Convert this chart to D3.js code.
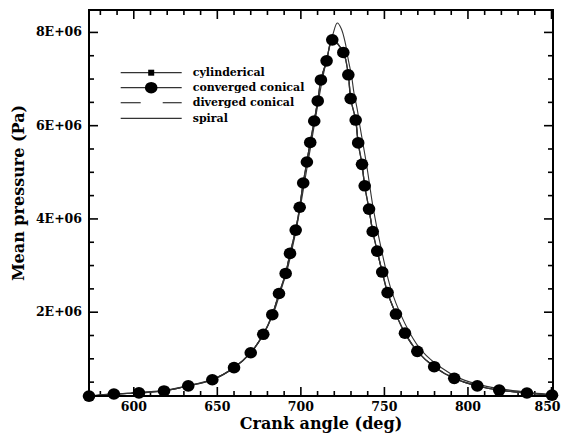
<!DOCTYPE html>
<html>
<head>
<meta charset="utf-8">
<script src="https://cdn.jsdelivr.net/npm/d3@7/dist/d3.min.js"></script>
<style>
  html, body { margin: 0; padding: 0; background: #fff; }
  svg { display: block; }
</style>
</head>
<body>
<script>
// ---- data (crank angle in deg, mean pressure in Pa) ----
const convergedAngle = [573.5, 588.4, 603.4, 618.4, 632.9, 647.3, 660.3, 670.3, 677.8, 683.2, 687.2, 691.2, 693.8, 697.2, 699.6, 701.7, 703.9, 705.9, 708.3, 710.4, 712.3, 715.7, 719.1, 725.7, 728.7, 730.1, 733.1, 734.6, 736.9, 738.5, 741.1, 743.3, 746.0, 749.0, 752.2, 757.2, 762.6, 770.0, 780.1, 792.1, 805.9, 819.0, 835.6, 850.6];
const convergedValue = [0.19e6, 0.235e6, 0.26e6, 0.30e6, 0.41e6, 0.54e6, 0.80e6, 1.12e6, 1.515e6, 1.936e6, 2.39e6, 2.82e6, 3.25e6, 3.75e6, 4.24e6, 4.76e6, 5.21e6, 5.63e6, 6.09e6, 6.52e6, 6.97e6, 7.38e6, 7.83e6, 7.56e6, 7.08e6, 6.57e6, 6.11e6, 5.62e6, 5.16e6, 4.70e6, 4.20e6, 3.72e6, 3.30e6, 2.85e6, 2.41e6, 1.95e6, 1.54e6, 1.15e6, 0.82e6, 0.57e6, 0.41e6, 0.32e6, 0.256e6, 0.21e6];
// cylinderical and diverged conical overlap the converged conical curve
const cylindericalAngle = convergedAngle.slice();
const cylindericalValue = convergedValue.slice();
const divergedAngle = convergedAngle.slice();
const divergedValue = convergedValue.slice();
const spiralAngle = [573.5, 590, 605, 620, 635, 648, 660, 670, 678, 684, 688, 692, 695, 698, 700.5, 703, 705.5, 708, 710.5, 713, 716, 719.5, 722.1, 724.5, 726.9, 728.7, 730.7, 732.1, 734.1, 735.7, 739.6, 743.7, 748.7, 754.9, 765.6, 773.0, 783.5, 795.5, 809, 823, 839, 851];
const spiralValue = [0.19e6, 0.23e6, 0.27e6, 0.32e6, 0.43e6, 0.56e6, 0.79e6, 1.11e6, 1.52e6, 1.98e6, 2.42e6, 2.88e6, 3.33e6, 3.85e6, 4.35e6, 4.88e6, 5.40e6, 5.93e6, 6.45e6, 6.95e6, 7.45e6, 7.95e6, 8.19e6, 8.07e6, 7.76e6, 7.40e6, 7.04e6, 6.69e6, 6.33e6, 5.97e6, 5.16e6, 4.20e6, 3.30e6, 2.41e6, 1.54e6, 1.15e6, 0.82e6, 0.57e6, 0.42e6, 0.33e6, 0.26e6, 0.22e6];

const xMajorTicks = [600, 650, 700, 750, 800, 850];
const xMinorTicks = [580, 590, 610, 620, 630, 640, 660, 670, 680, 690, 710, 720, 730, 740, 760, 770, 780, 790, 810, 820, 830, 840];
const yMajorTicks = [2e6, 4e6, 6e6, 8e6];
const yTickLabels = ["2E+06", "4E+06", "6E+06", "8E+06"];
const yMinorTicks = [0.5e6, 1e6, 1.5e6, 2.5e6, 3e6, 3.5e6, 4.5e6, 5e6, 5.5e6, 6.5e6, 7e6, 7.5e6];
const legendLabels = ["cylinderical", "converged conical", "diverged conical", "spiral"];
const xTitle = "Crank angle (deg)";
const yTitle = "Mean pressure (Pa)";

(function () {
// ---- layout ----
const W = 563, H = 435;
const pL = 89, pR = 553, pT = 10, pB = 396;
const x = d3.scaleLinear().domain([573.5, 851.2]).range([pL, pR]);
const y = d3.scaleLinear().domain([0.192e6, 8.47e6]).range([pB, pT]);

const svg = d3.select("body").append("svg").attr("width", W).attr("height", H);
const tickFont = "'DejaVu Serif', serif";

function styleAxis(g) {
  g.select(".domain").remove();
  g.selectAll("line").attr("stroke", "#000").attr("stroke-width", 1.6);
  g.selectAll("text").attr("font-family", tickFont).attr("font-weight", "bold")
    .attr("font-size", 12.5).attr("fill", "#000");
}

// bottom
const bAxis = svg.append("g").attr("transform", `translate(0,${pB})`)
  .call(d3.axisBottom(x).tickValues(xMajorTicks).tickSize(-9).tickPadding(6).tickFormat(d3.format("d")))
  .call(styleAxis);
bAxis.selectAll(".tick text").filter(d => d === 850).attr("dx", -4);
svg.append("g").attr("transform", `translate(0,${pB})`)
  .call(d3.axisBottom(x).tickValues(xMinorTicks).tickSize(-5).tickFormat(""))
  .call(styleAxis);
// top
svg.append("g").attr("transform", `translate(0,${pT})`)
  .call(d3.axisTop(x).tickValues(xMajorTicks).tickSize(-9).tickFormat(""))
  .call(styleAxis);
svg.append("g").attr("transform", `translate(0,${pT})`)
  .call(d3.axisTop(x).tickValues(xMinorTicks).tickSize(-5).tickFormat(""))
  .call(styleAxis);
// left
svg.append("g").attr("transform", `translate(${pL},0)`)
  .call(d3.axisLeft(y).tickValues(yMajorTicks).tickSize(-9).tickPadding(7)
    .tickFormat((d, i) => yTickLabels[i]))
  .call(styleAxis);
svg.append("g").attr("transform", `translate(${pL},0)`)
  .call(d3.axisLeft(y).tickValues(yMinorTicks).tickSize(-5).tickFormat(""))
  .call(styleAxis);
// right
svg.append("g").attr("transform", `translate(${pR},0)`)
  .call(d3.axisRight(y).tickValues(yMajorTicks).tickSize(-9).tickFormat(""))
  .call(styleAxis);
svg.append("g").attr("transform", `translate(${pR},0)`)
  .call(d3.axisRight(y).tickValues(yMinorTicks).tickSize(-5).tickFormat(""))
  .call(styleAxis);

// ---- series ----
const line = d3.line().x(d => x(d[0])).y(d => y(d[1])).curve(d3.curveCatmullRom.alpha(0.5));
const zip = (a, b) => a.map((v, i) => [v, b[i]]);
const spiral = zip(spiralAngle, spiralValue);
const diverged = zip(divergedAngle, divergedValue);
const cylinderical = zip(cylindericalAngle, cylindericalValue);
const converged = zip(convergedAngle, convergedValue);

svg.append("path").datum(spiral).attr("d", line)
  .attr("fill", "none").attr("stroke", "#333").attr("stroke-width", 1.1);
svg.append("path").datum(diverged).attr("d", line)
  .attr("fill", "none").attr("stroke", "#333").attr("stroke-width", 1.2).attr("stroke-dasharray", "20,22");
svg.append("path").datum(cylinderical).attr("d", line)
  .attr("fill", "none").attr("stroke", "#333").attr("stroke-width", 1.2);
svg.selectAll(".sq").data(cylinderical).join("rect").attr("class", "sq")
  .attr("x", d => x(d[0]) - 3).attr("y", d => y(d[1]) - 3).attr("width", 6).attr("height", 6).attr("fill", "#000");
svg.append("path").datum(converged).attr("d", line)
  .attr("fill", "none").attr("stroke", "#333").attr("stroke-width", 1.3);
svg.selectAll(".dot").data(converged).join("ellipse").attr("class", "dot")
  .attr("cx", d => x(d[0])).attr("cy", d => y(d[1])).attr("rx", 6.3).attr("ry", 5.8).attr("fill", "#000");

// frame
svg.append("rect").attr("x", pL).attr("y", pT).attr("width", pR - pL).attr("height", pB - pT)
  .attr("fill", "none").attr("stroke", "#000").attr("stroke-width", 2);

// ---- legend ----
const legY = [72.7, 87.7, 102.7, 118.3];
const lx0 = 120.7, lx1 = 181.7, lxm = 151.2;
const lg = svg.append("g");
legendLabels.forEach((lab, i) => {
  const yy = legY[i];
  if (i === 2) {
    lg.append("line").attr("x1", lx0).attr("x2", lx0 + 20).attr("y1", yy).attr("y2", yy).attr("stroke", "#333").attr("stroke-width", 1.2);
    lg.append("line").attr("x1", lx1 - 19).attr("x2", lx1).attr("y1", yy).attr("y2", yy).attr("stroke", "#333").attr("stroke-width", 1.2);
  } else {
    lg.append("line").attr("x1", lx0).attr("x2", lx1).attr("y1", yy).attr("y2", yy).attr("stroke", "#333").attr("stroke-width", 1.2);
  }
  if (i === 0) lg.append("rect").attr("x", lxm - 3).attr("y", yy - 3).attr("width", 6).attr("height", 6).attr("fill", "#000");
  if (i === 1) lg.append("ellipse").attr("cx", lxm).attr("cy", yy).attr("rx", 6.3).attr("ry", 5.8).attr("fill", "#000");
  lg.append("text").attr("x", 192.7).attr("y", yy).attr("dy", "0.32em")
    .attr("font-family", tickFont).attr("font-weight", "bold").attr("font-size", 11)
    .attr("fill", "#000").text(lab);
});

// ---- titles ----
svg.append("text").attr("x", (pL + pR) / 2).attr("y", 429)
  .attr("text-anchor", "middle").attr("font-family", tickFont).attr("font-weight", "bold")
  .attr("font-size", 16).attr("fill", "#000").text(xTitle);
svg.append("text").attr("transform", `translate(24,${(pT + pB) / 2 - 10}) rotate(-90)`)
  .attr("text-anchor", "middle").attr("font-family", tickFont).attr("font-weight", "bold")
  .attr("font-size", 16).attr("fill", "#000").text(yTitle);
})();
</script>
</body>
</html>
